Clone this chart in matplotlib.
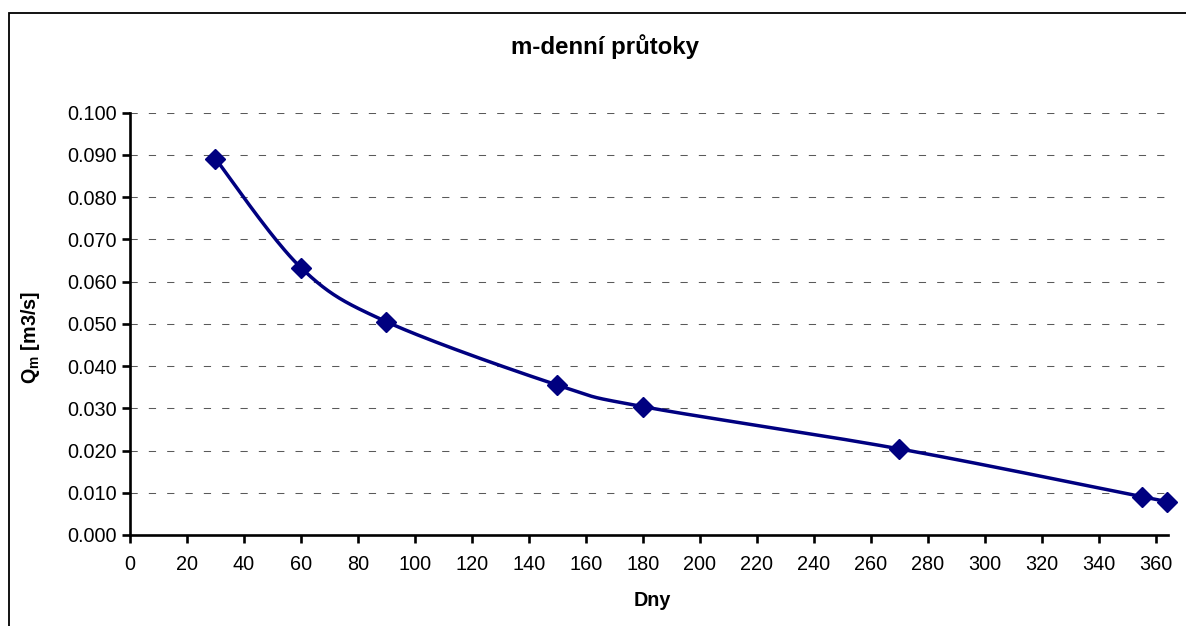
import numpy as np
import matplotlib
matplotlib.use("Agg")
import matplotlib.pyplot as plt
from matplotlib.patches import Rectangle

plt.rcParams["font.family"] = ["Liberation Sans", "DejaVu Sans"]
plt.rcParams["lines.scale_dashes"] = False

# m-day discharges
days = [30, 60, 90, 150, 180, 270, 355, 364]
discharge = [0.0891, 0.0633, 0.0505, 0.0355, 0.0304, 0.0204, 0.0091, 0.0079]
x_ticks = list(range(0, 361, 20))
y_ticks = [0.0, 0.01, 0.02, 0.03, 0.04, 0.05, 0.06, 0.07, 0.08, 0.09, 0.10]

W, H = 1186, 626
fig = plt.figure(figsize=(W / 100, H / 100), dpi=100)

# outer chart border (runs off the right and bottom edges)
fig.patches.append(Rectangle((8.5 / W, -0.05), 1.1, 1 - 12.5 / H + 0.05,
                             transform=fig.transFigure, fill=False,
                             edgecolor="black", linewidth=1.3))

ax = fig.add_axes([130 / W, (H - 535) / H, (1168 - 130) / W, (535 - 112.7) / H])
ax.set_xlim(0, 364.3)
ax.set_ylim(0, 0.1)

for s in ("top", "right"):
    ax.spines[s].set_visible(False)
for s in ("left", "bottom"):
    ax.spines[s].set_linewidth(1.9)

ax.set_xticks(x_ticks)
ax.set_yticks(y_ticks)
ax.set_yticklabels([f"{v:.3f}" for v in y_ticks])
ax.tick_params(axis="both", direction="out", length=5.5, width=1.9,
               labelsize=14.3, colors="black")
ax.tick_params(axis="x", pad=9)
ax.tick_params(axis="y", pad=4)

ax.grid(axis="y", color="#5a5a5a", linewidth=0.75, linestyle=(0, (5.2, 8)))
ax.set_axisbelow(True)

# smoothed line (Bezier through the points, computed in display space)
fig.canvas.draw()
pts = ax.transData.transform(np.column_stack([days, discharge]))
n = len(pts)
curve = []
for i in range(n - 1):
    p0 = pts[i - 1] if i > 0 else pts[i]
    p1 = pts[i]
    p2 = pts[i + 1]
    p3 = pts[i + 2] if i + 2 < n else pts[i + 1]
    c1 = p1 + (p2 - p0) / 6.0
    c2 = p2 - (p3 - p1) / 6.0
    t = np.linspace(0, 1, 40)[:, None]
    seg = ((1 - t) ** 3) * p1 + 3 * ((1 - t) ** 2) * t * c1 + 3 * (1 - t) * t ** 2 * c2 + t ** 3 * p2
    curve.append(seg if i == 0 else seg[1:])
curve = ax.transData.inverted().transform(np.vstack(curve))
ax.plot(curve[:, 0], curve[:, 1], color="#000080", linewidth=2.5,
        solid_capstyle="round", clip_on=False)
ax.plot(days, discharge, linestyle="none", marker="D", markersize=10.5,
        color="#000080", clip_on=False, zorder=5)

fig.text(605 / W, 1 - 47 / H, "m-denní průtoky", ha="center", va="center",
         fontsize=17.3, fontweight="bold")
fig.text(652 / W, 1 - 601 / H, "Dny", ha="center", va="center",
         fontsize=14.2, fontweight="bold")
fig.text(31 / W, 1 - 338 / H, r"Q$_\mathregular{m}$ [m3/s]", ha="center", va="center",
         rotation=90, fontsize=14.2, fontweight="bold")

fig.savefig("out.png", dpi=100)
